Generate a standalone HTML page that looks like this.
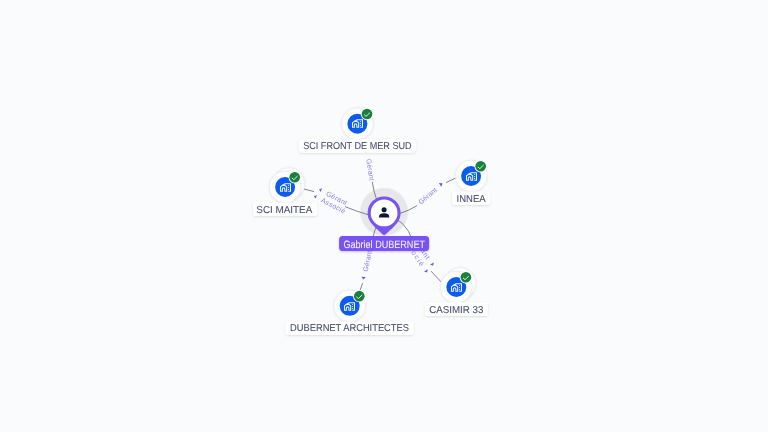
<!DOCTYPE html>
<html><head><meta charset="utf-8"><style>
html,body{margin:0;padding:0;background:#fafbfd;}
svg{display:block;font-family:"Liberation Sans",sans-serif;text-rendering:geometricPrecision;}
</style></head><body>
<svg width="768" height="432" viewBox="0 0 768 432">
<defs>
<filter id="sh" x="-30%" y="-30%" width="160%" height="160%"><feDropShadow dx="0" dy="0.5" stdDeviation="0.8" flood-color="#000" flood-opacity="0.10"/></filter>
<filter id="sh2" x="-20%" y="-50%" width="140%" height="200%"><feDropShadow dx="0" dy="0.8" stdDeviation="1" flood-color="#000" flood-opacity="0.12"/></filter>
<filter id="shp" x="-20%" y="-50%" width="140%" height="200%"><feDropShadow dx="0" dy="1" stdDeviation="1.2" flood-color="#7753f1" flood-opacity="0.35"/></filter>
<radialGradient id="halo" cx="0.5" cy="0.5" r="0.5"><stop offset="0" stop-color="#e8e8eb"/><stop offset="0.93" stop-color="#e7e7ea"/><stop offset="1" stop-color="#e7e7ea" stop-opacity="0.2"/></radialGradient>
</defs>
<rect width="768" height="432" fill="#fafbfd"/>
<circle cx="384.1" cy="211.8" r="24.6" fill="url(#halo)"/>
<path d="M384 216 Q401 215.5 417 205.6" fill="none" stroke="#595c68" stroke-width="0.75"/>
<path d="M446 182.6 L455.6 178" fill="none" stroke="#595c68" stroke-width="0.75"/>
<text x="428.20" y="196.60" transform="rotate(-40 428.20 196.60)" font-size="7.0" fill="#7468dc" opacity="0.85" text-anchor="middle" dominant-baseline="central" textLength="21.5" lengthAdjust="spacing">Gérant</text>
<path d="M439.00 183.00 L442.60 183.30 L441.30 186.90 Z" fill="#6f58e6"/>
<path d="M304 189 L314 191.6" fill="none" stroke="#595c68" stroke-width="0.75"/>
<path d="M345 206.6 Q358 212 368 214.6 L384 215" fill="none" stroke="#595c68" stroke-width="0.75"/>
<text x="336.20" y="199.00" transform="rotate(27 336.20 199.00)" font-size="7.0" fill="#7468dc" opacity="0.85" text-anchor="middle" dominant-baseline="central" textLength="22.5" lengthAdjust="spacing">Gérant</text>
<text x="332.90" y="206.40" transform="rotate(27 332.90 206.40)" font-size="7.0" fill="#7468dc" opacity="0.85" text-anchor="middle" dominant-baseline="central" textLength="26.5" lengthAdjust="spacing">Associé</text>
<path d="M319.10 189.50 L322.10 188.20 L320.60 192.00 Z" fill="#6f58e6"/>
<path d="M313.90 196.30 L317.00 195.00 L315.60 198.60 Z" fill="#6f58e6"/>
<path d="M372.2 181.7 Q374.6 199 384 215" fill="none" stroke="#595c68" stroke-width="0.75"/>
<text x="369.40" y="169.80" transform="rotate(81 369.40 169.80)" font-size="7.0" fill="#7468dc" opacity="0.85" text-anchor="middle" dominant-baseline="central" textLength="22" lengthAdjust="spacing">Gérant</text>
<path d="M366.08 148.96 L368.34 152.01 L364.99 152.60 Z" fill="#6f58e6"/>
<path d="M384 215 Q373.2 226 370.6 250" fill="none" stroke="#595c68" stroke-width="0.75"/>
<path d="M362.6 283.2 L359.8 291" fill="none" stroke="#595c68" stroke-width="0.75"/>
<text x="368.30" y="261.20" transform="rotate(-78 368.30 261.20)" font-size="7.0" fill="#7468dc" opacity="0.85" text-anchor="middle" dominant-baseline="central" textLength="21.5" lengthAdjust="spacing">Gérant</text>
<path d="M361.40 276.80 L365.80 277.10 L363.30 279.60 Z" fill="#6f58e6"/>
<path d="M384 215 Q406 218 413 242" fill="none" stroke="#595c68" stroke-width="0.75"/>
<path d="M431.1 271.2 L441 281.8" fill="none" stroke="#595c68" stroke-width="0.75"/>
<text x="420.75" y="248.60" transform="rotate(57 420.75 248.60)" font-size="7.0" fill="#7468dc" opacity="0.85" text-anchor="middle" dominant-baseline="central" textLength="25" lengthAdjust="spacing">Gérant</text>
<text x="412.70" y="252.10" transform="rotate(57 412.70 252.10)" font-size="7.0" fill="#7468dc" opacity="0.85" text-anchor="middle" dominant-baseline="central" textLength="33" lengthAdjust="spacing">Associé</text>
<path d="M430.00 264.60 L433.90 262.40 L433.10 265.70 Z" fill="#6f58e6"/>
<path d="M424.00 271.50 L427.80 269.20 L427.00 272.60 Z" fill="#6f58e6"/>
<circle cx="357.40" cy="123.70" r="15.9" fill="#fff" stroke="#dfe1e6" stroke-width="0.6" filter="url(#sh)"/>
<circle cx="357.40" cy="123.70" r="10" fill="#0b5bec"/>
<path d="M356.75 120.85 V119.65 H362.45 V127.25 H360.25" fill="none" stroke="#eef4ff" stroke-width="1.05"/>
<path d="M354.35 127.25 H352.50 V122.75 L355.60 120.30 L358.70 122.75 V127.25 H356.85 V125.10 A1.25 1.25 0 0 0 354.35 125.10 Z" fill="none" stroke="#eef4ff" stroke-width="1.05"/>
<circle cx="360.55" cy="121.55" r="0.55" fill="#eef4ff"/>
<circle cx="360.55" cy="123.60" r="0.55" fill="#eef4ff"/>
<circle cx="360.55" cy="125.60" r="0.55" fill="#eef4ff"/>
<circle cx="367.00" cy="114.00" r="6.2" fill="#fff"/>
<circle cx="367.00" cy="114.00" r="5.3" fill="#1a7f3c"/>
<path d="M364.40 114.85 L366.10 116.35 L369.65 113.00" fill="none" stroke="#e3f8e7" stroke-width="0.95" stroke-linecap="round" stroke-linejoin="round"/>
<rect x="298.70" y="139.30" width="117.40" height="13.5" rx="3.2" fill="#fff" filter="url(#sh2)"/>
<text x="303.20" y="149.20" font-size="10" fill="#444b6c" stroke="#444b6c" stroke-width="0.08" stroke-linejoin="round" opacity="0.995" textLength="108.4" lengthAdjust="spacingAndGlyphs">SCI FRONT DE MER SUD</text>
<circle cx="288.90" cy="183.50" r="15.9" fill="#fff" stroke="#dfe1e6" stroke-width="0.6" filter="url(#sh)"/>
<circle cx="285.10" cy="187.00" r="15.9" fill="#fff" stroke="#dfe1e6" stroke-width="0.6" filter="url(#sh)"/>
<circle cx="285.10" cy="187.00" r="10" fill="#0b5bec"/>
<path d="M284.75 184.85 V183.65 H290.45 V191.25 H288.25" fill="none" stroke="#eef4ff" stroke-width="1.05"/>
<path d="M282.35 191.25 H280.50 V186.75 L283.60 184.30 L286.70 186.75 V191.25 H284.85 V189.10 A1.25 1.25 0 0 0 282.35 189.10 Z" fill="none" stroke="#eef4ff" stroke-width="1.05"/>
<circle cx="288.55" cy="185.55" r="0.55" fill="#eef4ff"/>
<circle cx="288.55" cy="187.60" r="0.55" fill="#eef4ff"/>
<circle cx="288.55" cy="189.60" r="0.55" fill="#eef4ff"/>
<circle cx="294.70" cy="177.30" r="6.2" fill="#fff"/>
<circle cx="294.70" cy="177.30" r="5.3" fill="#1a7f3c"/>
<path d="M292.10 178.15 L293.80 179.65 L297.35 176.30" fill="none" stroke="#e3f8e7" stroke-width="0.95" stroke-linecap="round" stroke-linejoin="round"/>
<rect x="253.10" y="202.60" width="64.00" height="13.5" rx="3.2" fill="#fff" filter="url(#sh2)"/>
<text x="256.30" y="212.50" font-size="10" fill="#444b6c" stroke="#444b6c" stroke-width="0.08" stroke-linejoin="round" opacity="0.995" textLength="56" lengthAdjust="spacingAndGlyphs">SCI MAITEA</text>
<circle cx="471.10" cy="176.00" r="15.9" fill="#fff" stroke="#dfe1e6" stroke-width="0.6" filter="url(#sh)"/>
<circle cx="471.10" cy="176.00" r="10" fill="#0b5bec"/>
<path d="M470.75 173.85 V172.65 H476.45 V180.25 H474.25" fill="none" stroke="#eef4ff" stroke-width="1.05"/>
<path d="M468.35 180.25 H466.50 V175.75 L469.60 173.30 L472.70 175.75 V180.25 H470.85 V178.10 A1.25 1.25 0 0 0 468.35 178.10 Z" fill="none" stroke="#eef4ff" stroke-width="1.05"/>
<circle cx="474.55" cy="174.55" r="0.55" fill="#eef4ff"/>
<circle cx="474.55" cy="176.60" r="0.55" fill="#eef4ff"/>
<circle cx="474.55" cy="178.60" r="0.55" fill="#eef4ff"/>
<circle cx="480.70" cy="166.30" r="6.2" fill="#fff"/>
<circle cx="480.70" cy="166.30" r="5.3" fill="#1a7f3c"/>
<path d="M478.10 167.15 L479.80 168.65 L483.35 165.30" fill="none" stroke="#e3f8e7" stroke-width="0.95" stroke-linecap="round" stroke-linejoin="round"/>
<rect x="452.10" y="191.60" width="38.00" height="13.5" rx="3.2" fill="#fff" filter="url(#sh2)"/>
<text x="456.60" y="201.50" font-size="10" fill="#444b6c" stroke="#444b6c" stroke-width="0.08" stroke-linejoin="round" opacity="0.995" textLength="29" lengthAdjust="spacingAndGlyphs">INNEA</text>
<circle cx="349.70" cy="305.85" r="15.9" fill="#fff" stroke="#dfe1e6" stroke-width="0.6" filter="url(#sh)"/>
<circle cx="349.70" cy="305.85" r="10" fill="#0b5bec"/>
<path d="M348.75 303.85 V302.65 H354.45 V310.25 H352.25" fill="none" stroke="#eef4ff" stroke-width="1.05"/>
<path d="M346.35 310.25 H344.50 V305.75 L347.60 303.30 L350.70 305.75 V310.25 H348.85 V308.10 A1.25 1.25 0 0 0 346.35 308.10 Z" fill="none" stroke="#eef4ff" stroke-width="1.05"/>
<circle cx="352.55" cy="304.55" r="0.55" fill="#eef4ff"/>
<circle cx="352.55" cy="306.60" r="0.55" fill="#eef4ff"/>
<circle cx="352.55" cy="308.60" r="0.55" fill="#eef4ff"/>
<circle cx="359.30" cy="296.15" r="6.2" fill="#fff"/>
<circle cx="359.30" cy="296.15" r="5.3" fill="#1a7f3c"/>
<path d="M356.70 297.00 L358.40 298.50 L361.95 295.15" fill="none" stroke="#e3f8e7" stroke-width="0.95" stroke-linecap="round" stroke-linejoin="round"/>
<rect x="285.70" y="321.45" width="128.00" height="13.5" rx="3.2" fill="#fff" filter="url(#sh2)"/>
<text x="290.00" y="331.35" font-size="10" fill="#444b6c" stroke="#444b6c" stroke-width="0.08" stroke-linejoin="round" opacity="0.995" textLength="119" lengthAdjust="spacingAndGlyphs">DUBERNET ARCHITECTES</text>
<circle cx="460.10" cy="283.50" r="15.9" fill="#fff" stroke="#dfe1e6" stroke-width="0.6" filter="url(#sh)"/>
<circle cx="456.30" cy="287.00" r="15.9" fill="#fff" stroke="#dfe1e6" stroke-width="0.6" filter="url(#sh)"/>
<circle cx="456.30" cy="287.00" r="10" fill="#0b5bec"/>
<path d="M455.75 284.85 V283.65 H461.45 V291.25 H459.25" fill="none" stroke="#eef4ff" stroke-width="1.05"/>
<path d="M453.35 291.25 H451.50 V286.75 L454.60 284.30 L457.70 286.75 V291.25 H455.85 V289.10 A1.25 1.25 0 0 0 453.35 289.10 Z" fill="none" stroke="#eef4ff" stroke-width="1.05"/>
<circle cx="459.55" cy="285.55" r="0.55" fill="#eef4ff"/>
<circle cx="459.55" cy="287.60" r="0.55" fill="#eef4ff"/>
<circle cx="459.55" cy="289.60" r="0.55" fill="#eef4ff"/>
<circle cx="465.90" cy="277.30" r="6.2" fill="#fff"/>
<circle cx="465.90" cy="277.30" r="5.3" fill="#1a7f3c"/>
<path d="M463.30 278.15 L465.00 279.65 L468.55 276.30" fill="none" stroke="#e3f8e7" stroke-width="0.95" stroke-linecap="round" stroke-linejoin="round"/>
<rect x="424.80" y="302.60" width="63.00" height="13.5" rx="3.2" fill="#fff" filter="url(#sh2)"/>
<text x="429.30" y="312.50" font-size="10" fill="#444b6c" stroke="#444b6c" stroke-width="0.08" stroke-linejoin="round" opacity="0.995" textLength="54" lengthAdjust="spacingAndGlyphs">CASIMIR 33</text>
<path d="M371.10 223.06 A16.5 16.5 0 1 1 397.10 223.06 C394.02 227.00 385.70 234.40 384.10 235.60 C382.50 234.40 374.18 227.00 371.10 223.06 Z" fill="#7753f1"/>
<circle cx="384.1" cy="212.9" r="13.4" fill="#fff"/>
<circle cx="384.1" cy="209.7" r="2.55" fill="#0c1a3a"/>
<path d="M379.0 217.6 V216.4 Q379.2 213.3 384.1 213.3 Q389.0 213.3 389.2 216.4 V217.6 Z" fill="#0c1a3a"/>
<rect x="339.1" y="236" width="90" height="15" rx="3.5" fill="#7753f1" filter="url(#shp)"/>
<text x="343.4" y="248.0" font-size="10.6" fill="#f3efff" stroke="#f3efff" stroke-width="0.1" opacity="0.995" textLength="81.6" lengthAdjust="spacingAndGlyphs">Gabriel DUBERNET</text>
</svg>
</body></html>
